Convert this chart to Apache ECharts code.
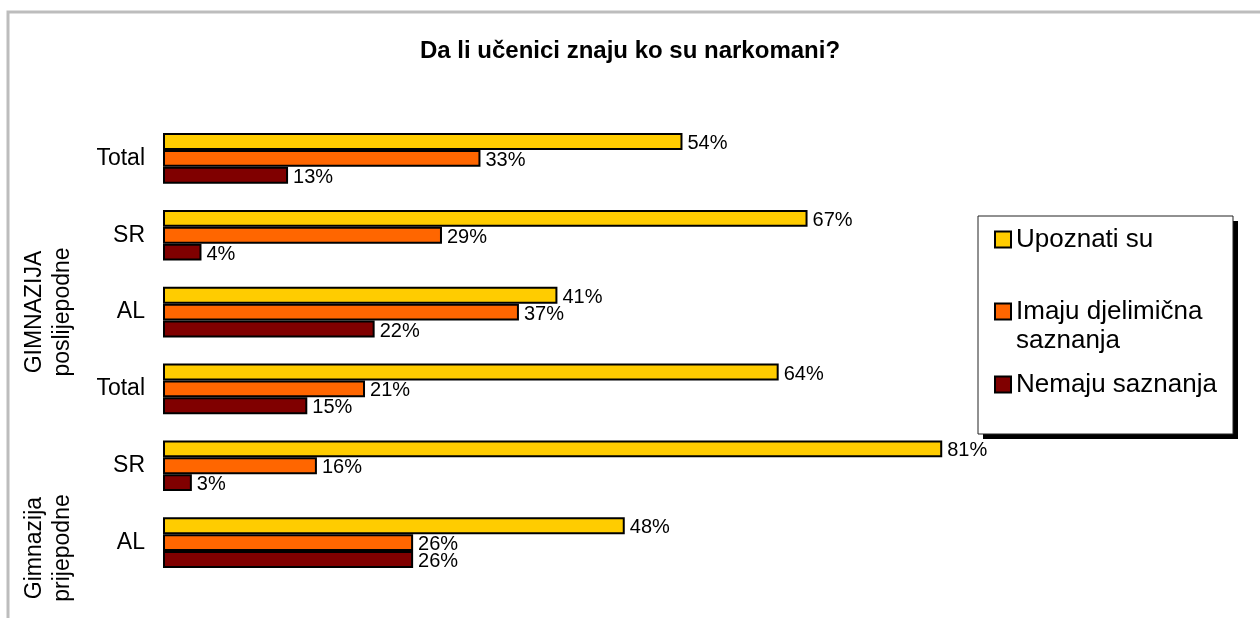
<!DOCTYPE html>
<html>
<head>
<meta charset="utf-8">
<title>Da li učenici znaju ko su narkomani?</title>
<script src="https://cdn.jsdelivr.net/npm/echarts@6/dist/echarts.min.js"></script>
<style>
  html, body { margin: 0; padding: 0; background: #fff; }
  #chart { width: 1260px; height: 618px; }
</style>
</head>
<body>
<div id="chart"></div>
<script>
// kategorije odozgo prema dolje
var categories = ['Total', 'SR', 'AL', 'Total', 'SR', 'AL'];
var groups = ['GIMNAZIJA\nposlijepodne', 'Gimnazija\nprijepodne'];
var seriesNames = ['Upoznati su', 'Imaju djelimična saznanja', 'Nemaju saznanja'];
var upoznati = [54, 67, 41, 64, 81, 48];
var djelimicna = [33, 29, 37, 21, 16, 26];
var nemaju = [13, 4, 22, 15, 3, 26];
var colors = ['#FFCC00', '#FF6600', '#800000'];

var FONT = 'Liberation Sans, Arial, sans-serif';
var myChart = echarts.init(document.getElementById('chart'));

function makeSeries(name, data, color) {
    return {
        name: name,
        type: 'bar',
        data: data,
        barGap: '0%',
        barCategoryGap: '34%',
        itemStyle: {
            color: color,
            borderColor: '#000',
            borderWidth: 2
        },
        label: {
            show: true,
            position: 'right',
            distance: 5,
            offset: [0, 2],
            formatter: '{c}%',
            color: '#000',
            fontSize: 20,
            fontFamily: FONT
        }
    };
}

// legenda - svaka stavka posebno zbog razmaka kao u originalu
function makeLegend(name, top, twoLines) {
    var lg = {
        data: [name],
        left: 994,
        top: top,
        padding: 0,
        orient: 'vertical',
        icon: 'rect',
        itemWidth: 16,
        itemHeight: 16,
        selectedMode: false,
        textStyle: {
            color: '#000',
            fontSize: 26,
            lineHeight: 29,
            fontFamily: FONT
        }
    };
    if (twoLines) {
        // prazan red iznad, da kvadratic stoji uz prvi red teksta
        lg.formatter = function (n) {
            var w = n.split(' ');
            return '{p| }\n{a|' + w[0] + ' ' + w[1] + '}\n{a|' + w[2] + '}';
        };
        lg.textStyle.rich = {
            p: { fontSize: 26, lineHeight: 29 },
            a: { fontSize: 26, lineHeight: 29, color: '#000', fontFamily: FONT }
        };
    }
    return lg;
}

var option = {
    animation: false,
    backgroundColor: '#fff',
    title: {
        text: 'Da li učenici znaju ko su narkomani?',
        left: 'center',
        top: 34,
        textStyle: {
            color: '#000',
            fontSize: 24,
            fontWeight: 'bold',
            fontFamily: FONT
        }
    },
    legend: [
        makeLegend(seriesNames[0], 225, false),
        makeLegend(seriesNames[1], 268, true),
        makeLegend(seriesNames[2], 370, false)
    ],
    grid: {
        left: 163,
        top: 120,
        width: 962,
        height: 461
    },
    xAxis: {
        type: 'value',
        min: 0,
        max: 100,
        show: false
    },
    yAxis: {
        type: 'category',
        inverse: true,
        data: categories,
        axisLine: { show: false },
        axisTick: { show: false },
        splitLine: { show: false },
        axisLabel: {
            color: '#000',
            fontSize: 23,
            margin: 18,
            fontFamily: FONT
        }
    },
    graphic: [
        // okvir
        {
            type: 'polyline',
            z: 0,
            shape: { points: [[8, 618], [8, 12], [1260, 12]] },
            style: { stroke: '#bdbdbd', lineWidth: 3, fill: null }
        },
        // sjena i okvir legende
        {
            type: 'rect',
            z: 1,
            shape: { x: 983, y: 221, width: 255, height: 218 },
            style: { fill: '#000' }
        },
        {
            type: 'rect',
            z: 2,
            shape: { x: 978, y: 216, width: 255, height: 218 },
            style: { fill: '#fff', stroke: '#222', lineWidth: 1 }
        },
        // grupe
        {
            type: 'text',
            x: 49,
            y: 312,
            rotation: Math.PI / 2,
            style: {
                text: groups[0],
                align: 'center',
                verticalAlign: 'middle',
                fontSize: 23,
                lineHeight: 28,
                fill: '#000',
                fontFamily: FONT
            }
        },
        {
            type: 'text',
            x: 49,
            y: 548,
            rotation: Math.PI / 2,
            style: {
                text: groups[1],
                align: 'center',
                verticalAlign: 'middle',
                fontSize: 23,
                lineHeight: 28,
                fill: '#000',
                fontFamily: FONT
            }
        }
    ],
    series: [
        makeSeries(seriesNames[0], upoznati, colors[0]),
        makeSeries(seriesNames[1], djelimicna, colors[1]),
        makeSeries(seriesNames[2], nemaju, colors[2])
    ]
};

myChart.setOption(option);
</script>
</body>
</html>
